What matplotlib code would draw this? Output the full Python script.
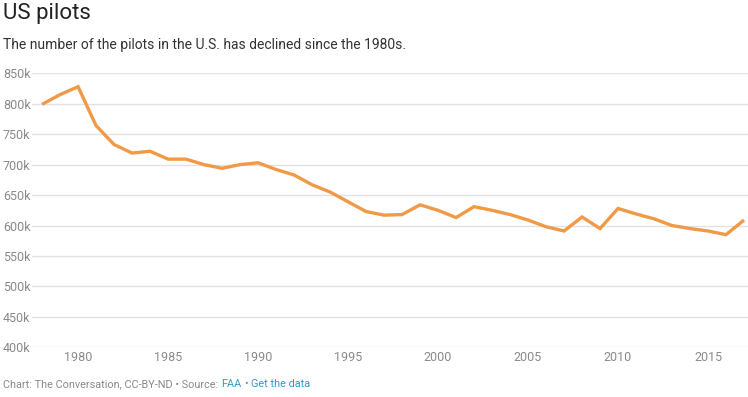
import matplotlib.pyplot as plt

plt.rcParams["font.family"] = ["Roboto", "DejaVu Sans"]

years = list(range(1978, 2018))
pilots_k = [799, 815, 828, 764, 733, 719, 722, 709, 709, 700,
            694, 700, 703, 692, 683, 667, 655, 639, 623, 617,
            618, 634, 625, 613, 631, 625, 618, 609, 598, 591,
            614, 595, 628, 619, 611, 600, 595, 591, 585, 609]

y_ticks = [400, 450, 500, 550, 600, 650, 700, 750, 800, 850]
x_ticks = [1980, 1985, 1990, 1995, 2000, 2005, 2010, 2015]

LINE = "#f09a48"
GRID = "#e2e2e2"
TXT = "#8a8a8a"
LINK = "#2a9cc8"

W, H = 748, 397
fig = plt.figure(figsize=(W / 100, H / 100), dpi=100)
ax = fig.add_axes([32 / W, 1 - 347.3 / H, (W - 32) / W, 274 / H])

ax.plot(years, pilots_k, color=LINE, linewidth=2.4, solid_joinstyle="miter",
        solid_capstyle="butt", zorder=3)

ax.set_xlim(1977.44, 2017.22)
ax.set_ylim(400, 850)
ax.set_yticks(y_ticks)
ax.set_yticklabels([f"{v}k" for v in y_ticks])
ax.set_xticks(x_ticks)
ax.grid(True, axis="y", color=GRID, linewidth=1)
ax.grid(False, axis="x")
for s in ax.spines.values():
    s.set_visible(False)
ax.tick_params(axis="y", length=0, pad=21, labelsize=9, labelcolor=TXT)
for lbl in ax.get_yticklabels():
    lbl.set_horizontalalignment("left")
ax.tick_params(axis="x", length=0, pad=3, labelsize=9, labelcolor=TXT)

fig.text(3 / W, 1 - 14 / H, "US pilots", fontsize=16, color="#222222",
         va="center", ha="left")
fig.text(3 / W, 1 - 45 / H, "The number of the pilots in the U.S. has declined since the 1980s.",
         fontsize=10, color="#333333", va="center", ha="left")

# footer: pieces in two colours, laid out one after another
parts = [("Chart: The Conversation, CC-BY-ND \u2022 Source:", TXT), ("FAA", LINK),
         ("\u2022", TXT), ("Get the data", LINK)]
renderer = fig.canvas.get_renderer()
x0 = 3
for txt, col in parts:
    t = fig.text(x0 / W, 1 - 384 / H, txt, fontsize=7.8, color=col,
                 va="center", ha="left")
    x0 = t.get_window_extent(renderer).x1 + 3

fig.savefig("out.png", dpi=100)
